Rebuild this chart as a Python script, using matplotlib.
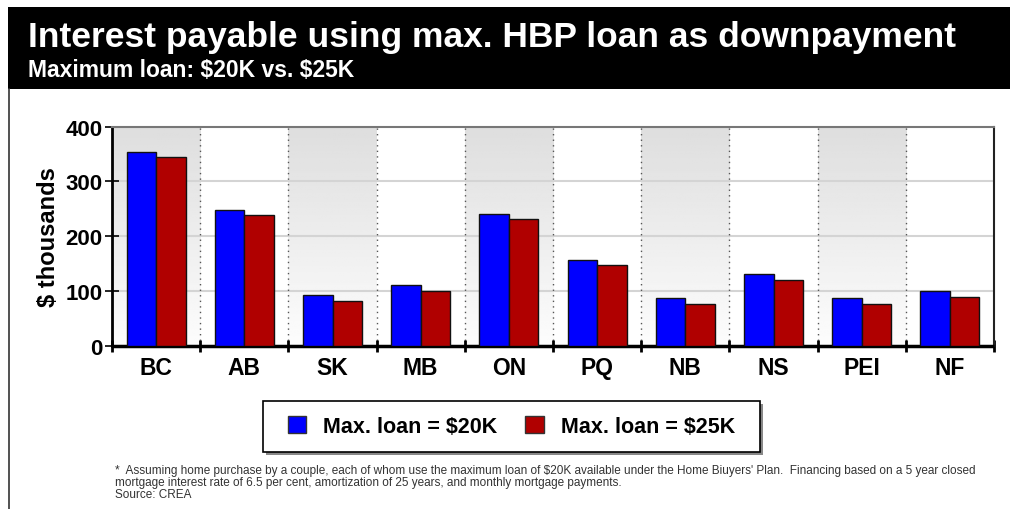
import numpy as np
import matplotlib
matplotlib.use("Agg")
import matplotlib.pyplot as plt
from matplotlib.patches import Rectangle, Patch

provinces = ["BC", "AB", "SK", "MB", "ON", "PQ", "NB", "NS", "PEI", "NF"]
loan_20k = [354, 248, 93, 111, 241, 156, 87, 131, 87, 101]
loan_25k = [344, 238, 82, 101, 231, 147, 77, 120, 76, 90]
yticks = [0, 100, 200, 300, 400]

title = "Interest payable using max. HBP loan as downpayment"
subtitle = r"Maximum loan: \$20K vs. \$25K"
footnote = ("*  Assuming home purchase by a couple, each of whom use the maximum loan of \\$20K available under the Home Biuyers' Plan.  "
            "Financing based on a 5 year closed\nmortgage interest rate of 6.5 per cent, amortization of 25 years, and monthly mortgage payments.\n"
            "Source: CREA")

plt.rcParams['font.family'] = ['Liberation Sans', 'DejaVu Sans']

fig = plt.figure(figsize=(10.1, 5.1), dpi=100)
W, H = 1010, 510

# black header band and left border
fig.patches.append(Rectangle((8 / W, 1 - 90 / H), 1, 82 / H, transform=fig.transFigure,
                             facecolor="black", edgecolor="none", zorder=0))
fig.lines.append(plt.Line2D([8.5 / W, 8.5 / W], [0, 1 - 90 / H], transform=fig.transFigure,
                            color="#333333", lw=1.2))
fig.text(28 / W, 1 - 47 / H, title, color="white", fontsize=25.5, fontweight="bold")
fig.text(28 / W, 1 - 77 / H, subtitle, color="white", fontsize=16.5, fontweight="bold")

ax = fig.add_axes([112 / W, 1 - 347 / H, 882 / W, 219.5 / H])
x = np.arange(len(provinces))

# alternating shaded columns with vertical gradient (darker at top)
grad = np.linspace(0.87, 0.99, 100).reshape(-1, 1)
for i in range(0, len(provinces), 2):
    ax.imshow(grad, cmap="gray", vmin=0, vmax=1, aspect="auto",
              extent=(i - 0.5, i + 0.5, 0, 400), origin="upper", zorder=0)
ax.set_xlim(-0.5, len(provinces) - 0.5)
ax.set_ylim(0, 400)

for yv in yticks[1:-1]:
    ax.axhline(yv, color="#d4d4d4", lw=1.5, zorder=1)
for b in np.arange(0.5, len(provinces) - 0.5, 1):
    ax.axvline(b, color="#555555", lw=1, ls=(0, (1, 3)), zorder=1)

w = 0.335
ax.bar(x - w / 2, loan_20k, w, color="#0000ff", edgecolor="#111111", lw=1, zorder=3)
ax.bar(x + w / 2, loan_25k, w, color="#b00000", edgecolor="#111111", lw=1, zorder=3)

ax.set_yticks(yticks)
ax.set_yticklabels([str(v) for v in yticks], fontsize=16, fontweight="bold")
ax.set_xticks(np.arange(-0.5, len(provinces), 1))
ax.set_xticklabels([])
ax.set_xticks(x, minor=True)
ax.set_xticklabels(provinces, minor=True, fontsize=16.5, fontweight="bold")
ax.tick_params(axis="x", which="minor", length=0, pad=7)
ax.tick_params(axis="x", which="major", direction="inout", length=8, width=2)
ax.tick_params(axis="y", direction="inout", length=10, width=1.2, pad=2)
ax.set_ylabel("$ thousands", fontsize=17, fontweight="bold", labelpad=4)

ax.spines["left"].set_linewidth(2)
ax.spines["bottom"].set_linewidth(2.5)
ax.spines["bottom"].set_capstyle("butt")
ax.spines["top"].set_color("#777777")
ax.spines["top"].set_linewidth(1.5)
ax.spines["right"].set_color("#222222")
ax.spines["right"].set_linewidth(1.5)

# legend box with drop shadow
lx0, ly0, lw_, lh = 263 / W, 1 - 453 / H, 497 / W, 51 / H
fig.patches.append(Rectangle((lx0 + 3 / W, ly0 - 3 / H), lw_, lh, transform=fig.transFigure,
                             facecolor="#888888", edgecolor="none", zorder=1))
fig.patches.append(Rectangle((lx0, ly0), lw_, lh, transform=fig.transFigure,
                             facecolor="white", edgecolor="black", lw=1.2, zorder=2))
fig.legend(handles=[Patch(facecolor="#0000ff", edgecolor="#333333", label="Max. loan = $20K"),
                    Patch(facecolor="#b00000", edgecolor="#333333", label="Max. loan = $25K")],
           loc="center", bbox_to_anchor=(lx0 + lw_ / 2, ly0 + lh / 2), ncol=2, frameon=False,
           prop={"size": 15.5, "weight": "bold"}, handlelength=0.85, handleheight=0.85,
           columnspacing=1.3, handletextpad=0.8)

fig.text(115 / W, 1 - 465 / H, footnote, fontsize=8.5, color="#333333", linespacing=1.0, va="top")

fig.savefig("out.png", dpi=100)
